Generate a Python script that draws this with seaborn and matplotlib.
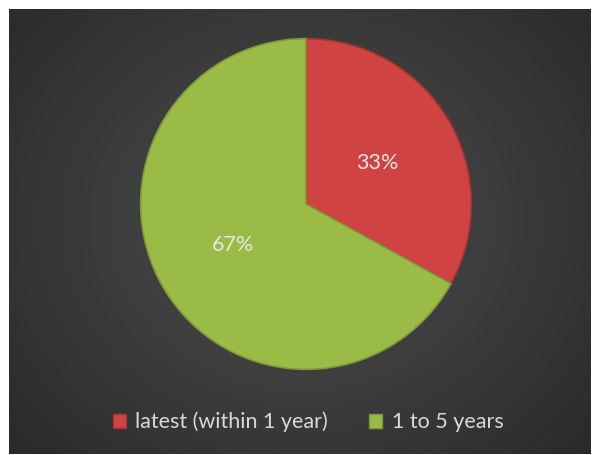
import numpy as np
import matplotlib
matplotlib.use("Agg")
import matplotlib.pyplot as plt
import seaborn as sns

categories = ["latest (within 1 year)", "1 to 5 years"]
values = [33, 67]
labels = ["33%", "67%"]
colors = ["#cf4343", "#9bbb47"]
edge_colors = ["#a83232", "#7f9a38"]

sns.set_theme(style="white")
plt.rcParams['font.family'] = ['Lato', 'DejaVu Sans']

fig = plt.figure(figsize=(5.92, 4.55), dpi=100)
fig.patch.set_facecolor("white")

# background panel with radial gradient
W, H = 592, 455
x0, y0, x1, y1 = 9, 9, 591, 454
bg = fig.add_axes([x0 / W, 1 - y1 / H, (x1 - x0) / W, (y1 - y0) / H])
yy, xx = np.mgrid[0:200, 0:260]
cx, cy = 130, 95
r = np.sqrt(((xx - cx) / 170) ** 2 + ((yy - cy) / 150) ** 2)
val = 0.31 - 0.17 * np.clip(r, 0, 1.2) / 1.2
img = np.dstack([val, val, val])
bg.imshow(img, aspect="auto", extent=[0, 1, 0, 1], interpolation="bilinear")
bg.set_axis_off()

# pie axes
pcx, pcy, pr = 306, 204, 167
ax = fig.add_axes([(pcx - pr) / W, 1 - (pcy + pr) / H, 2 * pr / W, 2 * pr / H])
ax.set_axis_off()
wedges, texts = ax.pie(values, colors=colors, startangle=90, counterclock=False,
                       radius=1.0, wedgeprops=dict(linewidth=1.2))
for w, ec in zip(wedges, edge_colors):
    w.set_edgecolor(ec)
ax.set_xlim(-1.01, 1.01)
ax.set_ylim(-1.01, 1.01)
ax.set_aspect("equal")

# labels
ax.text(0.43, 0.245, labels[0], ha="center", va="center", fontsize=15.5, color="#e6e6e6")
ax.text(-0.44, -0.25, labels[1], ha="center", va="center", fontsize=15.5, color="#e6e6e6")

# legend
from matplotlib.patches import Patch
handles = [Patch(facecolor=c, edgecolor=e) for c, e in zip(colors, edge_colors)]
leg = fig.legend(handles, categories, loc="center", bbox_to_anchor=(308 / W, 1 - 422 / H),
                 ncol=2, frameon=False, fontsize=15.5, handlelength=0.6, handleheight=0.6,
                 handletextpad=0.45, columnspacing=1.9)
for t in leg.get_texts():
    t.set_color("#d9d9d9")

fig.savefig("out.png", dpi=100, facecolor="white")
